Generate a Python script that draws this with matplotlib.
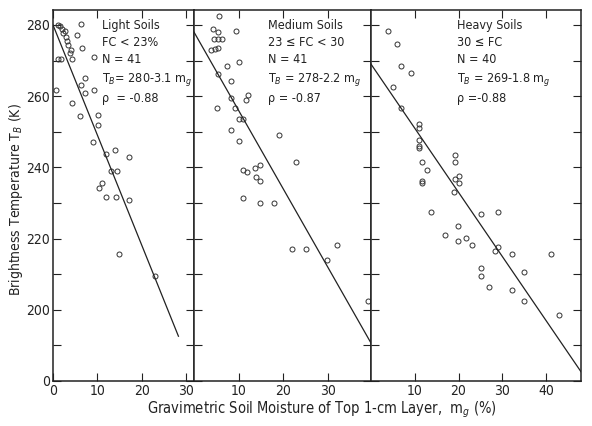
import matplotlib
matplotlib.use("Agg")
import matplotlib.pyplot as plt

plt.rcParams["font.family"] = ["DejaVu Sans"]
plt.rcParams["font.stretch"] = "condensed"

# Light soils (FC < 23%)
light_m = [1.1, 1.6, 2.0, 6.3, 5.5, 2.3, 2.6, 3.0, 3.2, 3.4, 6.5, 4.1, 3.8,
           1.2, 1.9, 4.3, 9.2, 7.2, 6.3, 0.6, 9.2, 7.2, 4.2, 6.0, 10.2, 10.2,
           9.0, 11.9, 13.9, 17.0, 13.0, 14.3, 11.1, 10.3, 12.0, 14.1, 17.0,
           14.9, 23.0]
light_t = [280.0, 279.6, 279.0, 280.2, 277.3, 277.7, 278.2, 276.6, 275.5,
           274.4, 273.4, 273.0, 272.0, 270.5, 270.5, 270.3, 271.0, 265.0,
           263.2, 261.8, 261.7, 260.8, 258.0, 254.3, 254.8, 252.0, 247.1,
           243.7, 244.8, 242.8, 238.9, 238.9, 235.5, 234.1, 231.8, 231.8,
           230.7, 215.8, 209.6]

# Medium soils (23 <= FC < 30)
med_m = [5.5, 4.2, 5.3, 9.5, 4.4, 5.3, 6.2, 3.9, 4.8, 5.3, 10.2, 7.3, 5.3,
         8.4, 8.4, 12.2, 11.6, 5.1, 9.1, 10.2, 10.9, 8.2, 19.0, 10.2, 22.8,
         14.9, 10.9, 11.8, 13.6, 14.0, 14.9, 10.9, 14.9, 17.9, 21.9, 25.1,
         32.0, 29.8, 39.0]
med_t = [282.6, 278.9, 278.0, 278.3, 276.0, 276.0, 276.0, 273.0, 273.2,
         273.5, 269.6, 268.5, 266.2, 264.2, 259.4, 260.3, 258.9, 256.6,
         256.6, 253.5, 253.5, 250.6, 249.0, 247.3, 241.4, 240.6, 239.4,
         238.6, 239.7, 237.2, 236.3, 231.5, 230.1, 230.1, 217.2, 217.2,
         218.3, 214.0, 202.5]

# Heavy soils (30 <= FC)
heavy_m = [3.9, 6.0, 6.9, 9.2, 5.1, 6.9, 11.0, 11.0, 11.0, 11.0, 11.0, 11.7,
           12.9, 11.7, 11.7, 19.1, 19.1, 20.0, 19.3, 20.0, 18.9, 13.8, 25.1,
           29.0, 19.8, 17.0, 19.8, 21.8, 23.0, 28.3, 29.0, 32.2, 41.1, 25.1,
           25.1, 34.9, 26.9, 32.2, 34.9, 43.0]
heavy_t = [278.3, 274.6, 268.5, 266.5, 262.5, 256.6, 252.1, 251.0, 247.6,
           245.9, 245.4, 241.4, 239.4, 236.3, 235.5, 243.4, 241.4, 237.5,
           236.6, 235.5, 233.2, 227.6, 227.0, 227.6, 223.4, 221.1, 219.2,
           220.3, 218.3, 216.6, 217.7, 215.8, 215.8, 211.8, 209.6, 210.7,
           206.5, 205.6, 202.5, 198.6]

# regression lines: intercept, slope, end of line (m_g)
fits = [(280, -3.1, 28.2), (278, -2.2, 39.7), (269, -1.8, 48.0)]

labels = [
    ["Light Soils", "FC < 23%", "N = 41", "T$_B$= 280-3.1 m$_g$",
     "\u03c1  = -0.88"],
    ["Medium Soils", "23 \u2264 FC < 30", "N = 41",
     "T$_B$ = 278-2.2 m$_g$", "\u03c1 = -0.87"],
    ["Heavy Soils", "30 \u2264 FC", "N = 40", "T$_B$ = 269-1.8 m$_g$",
     "\u03c1 =-0.88"],
]
xlims = [31.7, 39.7, 48.0]
xticks = [[0, 10, 20, 30], [10, 20, 30], [10, 20, 30, 40]]
text_x = [0.35, 0.42, 0.41]

fig = plt.figure(figsize=(5.92, 4.26), dpi=100)
W, H = 592, 426
edges = [53, 194, 371, 581]
top, bot = 10, 381

data = [(light_m, light_t), (med_m, med_t), (heavy_m, heavy_t)]
for i in range(3):
    ax = fig.add_axes([edges[i] / W, 1 - bot / H,
                       (edges[i + 1] - edges[i]) / W, (bot - top) / H])
    m, t = data[i]
    ax.plot(m, t, "o", ms=3.6, mfc="none", mec="#333333", mew=0.7)
    b0, b1, end = fits[i]
    ax.plot([0, end], [b0, b0 + b1 * end], color="#222222", lw=0.9)
    ax.set_xlim(0, xlims[i])
    ax.set_ylim(180, 284.2)
    ax.set_xticks(xticks[i])
    ax.set_yticks([180, 200, 220, 240, 260, 280])
    ax.set_yticks([190, 210, 230, 250, 270], minor=True)
    if i == 0:
        ax.set_yticklabels(["0", "200", "220", "240", "260", "280"])
    else:
        ax.set_yticklabels([])
    ax.tick_params(which="both", direction="in", top=True, right=True,
                   labelsize=10, color="#222222", labelcolor="#222222", pad=2)
    ax.tick_params(which="major", length=6, width=0.8)
    ax.tick_params(axis="y", which="minor", length=6, width=0.8)
    for s in ax.spines.values():
        s.set_linewidth(1.1)
        s.set_color("#222222")
    ax.text(text_x[i], 0.975, "\n".join(labels[i]), transform=ax.transAxes,
            ha="left", va="top", fontsize=9, linespacing=1.4,
            color="#222222")

fig.text(16 / W, 1 - 200 / H, "Brightness Temperature T$_B$ (K)",
         rotation=90, ha="center", va="center", fontsize=10, color="#222222")
fig.text(322 / W, 1 - 410 / H,
         "Gravimetric Soil Moisture of Top 1-cm Layer,  m$_g$ (%)",
         ha="center", va="center", fontsize=10.5, color="#222222")

fig.savefig("out.png", dpi=100)
